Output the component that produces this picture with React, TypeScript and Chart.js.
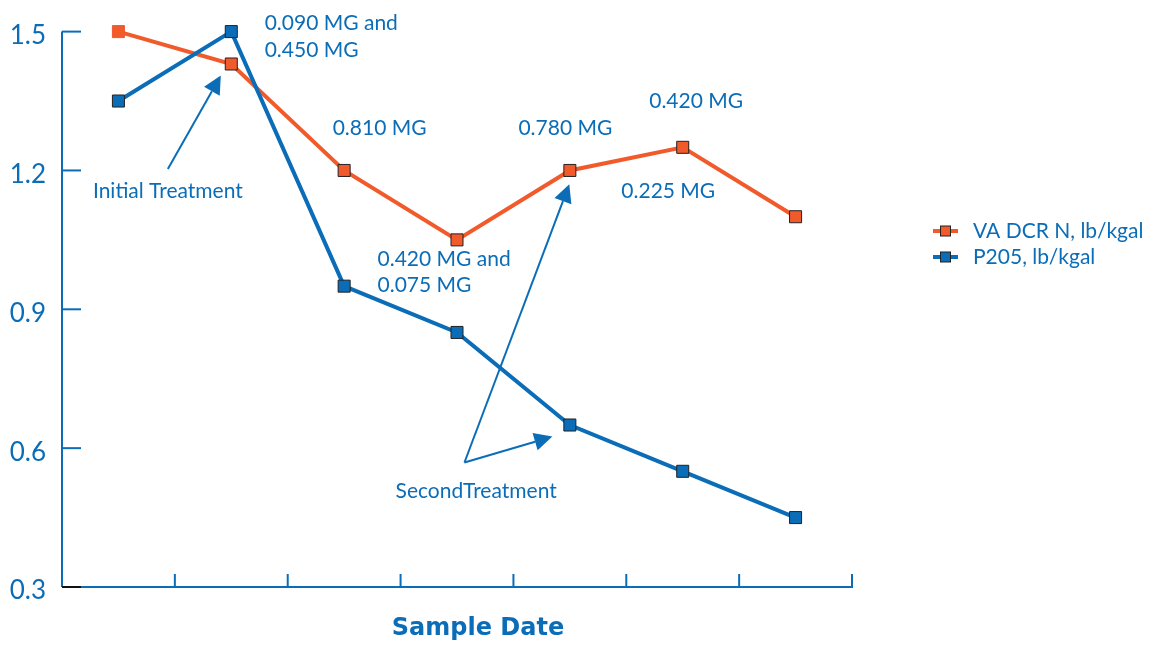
import { useEffect, useRef } from "react";
import { Chart, registerables } from "chart.js";

Chart.register(...registerables);

// ---- data ----
const categories = ["S1", "S2", "S3", "S4", "S5", "S6", "S7"];
const vaDcrN = [1.5, 1.43, 1.2, 1.05, 1.2, 1.25, 1.1];
const p205 = [1.35, 1.5, 0.95, 0.85, 0.65, 0.55, 0.45];
const yTicks = [0.3, 0.6, 0.9, 1.2, 1.5];
const seriesNames = ["VA DCR N, lb/kgal", "P205, lb/kgal"];
const xAxisTitle = "Sample Date";

// annotation texts anchored in data units (category index, value)
const noteTexts = [
  "0.090 MG and",
  "0.450 MG",
  "0.810 MG",
  "0.780 MG",
  "0.420 MG",
  "0.225 MG",
  "0.420 MG and",
  "0.075 MG",
  "Initial Treatment",
  "SecondTreatment",
];
const noteX = [1.296, 1.296, 1.898, 3.544, 4.703, 4.456, 2.296, 2.296, -0.226, 2.456];
const noteY = [1.519, 1.459, 1.291, 1.291, 1.349, 1.155, 1.009, 0.953, 1.155, 0.507];

// arrows: tail -> tip in data units
const arrowFromX = [0.438, 3.066, 3.066];
const arrowFromY = [1.203, 0.569, 0.569];
const arrowToX = [0.907, 3.845, 3.995];
const arrowToY = [1.405, 0.625, 1.17];

const BLUE = "#0b6db7";
const ORANGE = "#f15a2b";
const FONT = "Lato, 'Open Sans', sans-serif";

const decor = {
  id: "decor",
  beforeDatasetsDraw(chart: any) {
    const { ctx, scales } = chart;
    const x = scales.x;
    const y = scales.y;
    const left = chart.chartArea.left;
    const right = chart.chartArea.right;
    const yTop = y.getPixelForValue(yTicks[yTicks.length - 1]);
    const yBot = y.getPixelForValue(yTicks[0]);
    ctx.save();
    ctx.lineWidth = 2;
    ctx.strokeStyle = BLUE;
    ctx.beginPath();
    ctx.moveTo(left, yTop);
    ctx.lineTo(left, yBot);
    ctx.moveTo(left, yBot);
    ctx.lineTo(right, yBot);
    ctx.stroke();
    // y ticks inward
    yTicks.forEach((v, i) => {
      const py = y.getPixelForValue(v);
      ctx.strokeStyle = i === 0 ? "#111" : BLUE;
      ctx.beginPath();
      ctx.moveTo(left, py);
      ctx.lineTo(left + 19, py);
      ctx.stroke();
    });
    // x ticks upward at category boundaries
    ctx.strokeStyle = BLUE;
    for (let i = 0; i < categories.length; i++) {
      const px = x.getPixelForValue(i + 0.5);
      ctx.beginPath();
      ctx.moveTo(px, yBot + 1);
      ctx.lineTo(px, yBot - 13);
      ctx.stroke();
    }
    ctx.restore();
  },
  afterDraw(chart: any) {
    const { ctx, scales } = chart;
    const x = scales.x;
    const y = scales.y;
    ctx.save();
    // annotation texts
    ctx.fillStyle = BLUE;
    ctx.font = `21px ${FONT}`;
    ctx.textAlign = "left";
    ctx.textBaseline = "middle";
    noteTexts.forEach((t, i) => {
      ctx.fillText(t, x.getPixelForValue(noteX[i]), y.getPixelForValue(noteY[i]));
    });
    // arrows
    ctx.strokeStyle = BLUE;
    ctx.lineWidth = 2;
    for (let i = 0; i < arrowFromX.length; i++) {
      const x0 = x.getPixelForValue(arrowFromX[i]);
      const y0 = y.getPixelForValue(arrowFromY[i]);
      const x1 = x.getPixelForValue(arrowToX[i]);
      const y1 = y.getPixelForValue(arrowToY[i]);
      const ang = Math.atan2(y1 - y0, x1 - x0);
      const hl = 18;
      const hw = 9;
      const bx = x1 - hl * Math.cos(ang);
      const by = y1 - hl * Math.sin(ang);
      ctx.beginPath();
      ctx.moveTo(x0, y0);
      ctx.lineTo(bx, by);
      ctx.stroke();
      ctx.beginPath();
      ctx.moveTo(x1, y1);
      ctx.lineTo(bx + hw * Math.sin(ang), by - hw * Math.cos(ang));
      ctx.lineTo(bx - hw * Math.sin(ang), by + hw * Math.cos(ang));
      ctx.closePath();
      ctx.fillStyle = BLUE;
      ctx.fill();
    }
    // legend
    const colors = [ORANGE, BLUE];
    const lx = 933;
    const ly = [231, 257];
    seriesNames.forEach((name, i) => {
      ctx.strokeStyle = colors[i];
      ctx.lineWidth = 4;
      ctx.beginPath();
      ctx.moveTo(lx, ly[i]);
      ctx.lineTo(lx + 25, ly[i]);
      ctx.stroke();
      ctx.fillStyle = colors[i];
      ctx.fillRect(lx + 7.5, ly[i] - 5, 10, 10);
      ctx.strokeStyle = "#222";
      ctx.lineWidth = 1;
      ctx.strokeRect(lx + 7.5, ly[i] - 5, 10, 10);
      ctx.fillStyle = BLUE;
      ctx.font = `21px ${FONT}`;
      ctx.textAlign = "left";
      ctx.textBaseline = "middle";
      ctx.fillText(name, lx + 40, ly[i]);
    });
    // x axis title
    ctx.fillStyle = BLUE;
    ctx.font = `bold 24px 'DejaVu Sans', ${FONT}`;
    ctx.textAlign = "center";
    ctx.textBaseline = "middle";
    ctx.fillText(xAxisTitle, 478, 629);
    ctx.restore();
  },
};

export default function App() {
  const ref = useRef<HTMLCanvasElement | null>(null);
  useEffect(() => {
    if (!ref.current) return;
    const orangeBorders = vaDcrN.map((_, i) => (i === 0 ? ORANGE : "#222"));
    const chart = new Chart(ref.current, {
      type: "line",
      data: {
        labels: categories,
        datasets: [
          {
            label: seriesNames[0],
            data: vaDcrN,
            borderColor: ORANGE,
            backgroundColor: ORANGE,
            borderWidth: 4,
            pointStyle: "rect",
            pointRadius: 8.5,
            pointBackgroundColor: ORANGE,
            pointBorderColor: orangeBorders,
            pointBorderWidth: 1,
            tension: 0,
            clip: false,
            order: 1,
          },
          {
            label: seriesNames[1],
            data: p205,
            borderColor: BLUE,
            backgroundColor: BLUE,
            borderWidth: 4,
            pointStyle: "rect",
            pointRadius: 8.5,
            pointBackgroundColor: BLUE,
            pointBorderColor: "#222",
            pointBorderWidth: 1,
            tension: 0,
            clip: false,
            order: 0,
          },
        ],
      },
      options: {
        responsive: false,
        animation: false,
        devicePixelRatio: 1,
        layout: { padding: { left: 0, top: 30, right: 304, bottom: 0 } },
        plugins: {
          legend: { display: false },
          tooltip: { enabled: false },
          title: { display: false },
        },
        scales: {
          x: {
            type: "category",
            offset: true,
            grid: { display: false, drawTicks: false },
            border: { display: false },
            ticks: { display: false },
            afterFit: (s: any) => {
              s.height = 58;
            },
          },
          y: {
            min: yTicks[0],
            max: yTicks[yTicks.length - 1],
            grid: { display: false, drawTicks: false },
            border: { display: false },
            afterBuildTicks: (s: any) => {
              s.ticks = yTicks.map((v) => ({ value: v }));
            },
            afterFit: (s: any) => {
              s.width = 62;
            },
            ticks: {
              padding: 16,
              labelOffset: 4,
              color: BLUE,
              font: { family: FONT, size: 26 },
              callback: (v: any) => Number(v).toFixed(1),
            },
          },
        },
      },
      plugins: [decor],
    });
    return () => chart.destroy();
  }, []);
  return (
    <div style={{ position: "fixed", left: 0, top: 0, width: 1156, height: 645, background: "#fff" }}>
      <canvas ref={ref} width={1156} height={645} style={{ width: 1156, height: 645 }} />
    </div>
  );
}
